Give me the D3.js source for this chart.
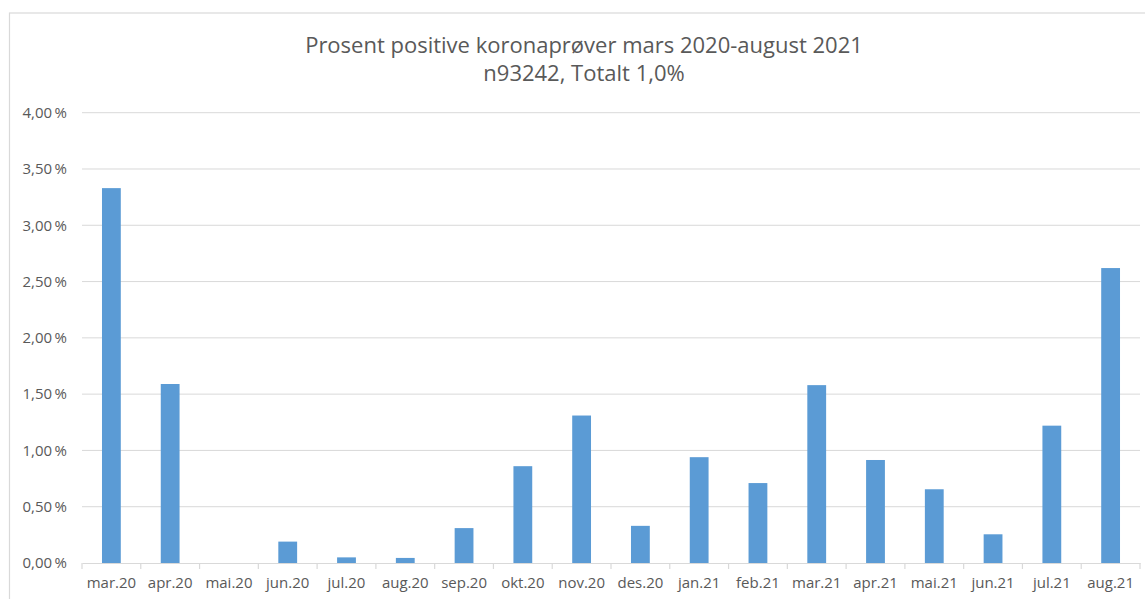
<!DOCTYPE html>
<html><head><meta charset="utf-8">
<script src="https://cdn.jsdelivr.net/npm/d3@7"></script>
<style>body{margin:0;background:#fff}svg{display:block}</style>
</head><body>
<svg id="c" width="1145" height="599"></svg>
<script>
const categories = ["mar.20","apr.20","mai.20","jun.20","jul.20","aug.20","sep.20","okt.20","nov.20","des.20","jan.21","feb.21","mar.21","apr.21","mai.21","jun.21","jul.21","aug.21"];
const values = [3.33,1.59,0,0.19,0.05,0.045,0.31,0.86,1.31,0.33,0.94,0.71,1.58,0.915,0.655,0.255,1.22,2.62];
const yTicks = [0,0.5,1,1.5,2,2.5,3,3.5,4];
const titleLines = ["Prosent positive koronaprøver mars 2020-august 2021","n93242, Totalt 1,0%"];

(function(){
const svg = d3.select("#c");
const font = "'Open Sans', 'Liberation Sans', sans-serif";
const pLeft = 82, pRight = 1140, pTop = 112.7, pBottom = 563;

svg.append("rect").attr("x",9.5).attr("y",13).attr("width",1140).attr("height",600)
  .attr("fill","none").attr("stroke","#d9d9d9").attr("stroke-width",1.2);

const x = d3.scaleBand().domain(categories).range([pLeft,pRight]).paddingInner(0.68).paddingOuter(0.34);
const y = d3.scaleLinear().domain([0,4]).range([pBottom,pTop]);

svg.append("g").selectAll("line").data(yTicks.filter(d=>d>0)).join("line")
  .attr("x1",pLeft).attr("x2",pRight).attr("y1",d=>y(d)).attr("y2",d=>y(d))
  .attr("stroke","#d9d9d9").attr("stroke-width",1);

const fmt = d => d3.format(".2f")(d).replace(".",",") + "\u2009%";
svg.append("g").selectAll("text").data(yTicks).join("text")
  .attr("x",67).attr("y",d=>y(d)).attr("dy","0.35em").attr("text-anchor","end")
  .attr("font-family",font).attr("font-size",15).attr("fill","#595959").text(fmt);

svg.append("g").selectAll("rect").data(values).join("rect")
  .attr("x",(d,i)=>x(categories[i])).attr("width",x.bandwidth())
  .attr("y",d=>y(d)).attr("height",d=>y(0)-y(d)).attr("fill","#5b9bd5");

const xa = svg.append("g").attr("transform",`translate(0,${pBottom})`)
  .call(d3.axisBottom(x).tickSize(0).tickPadding(14));
xa.select(".domain").attr("stroke","#d9d9d9").attr("stroke-width",1.2);
xa.selectAll("text").attr("font-family",font).attr("font-size",15).attr("fill","#595959");
const bounds = d3.range(categories.length+1).map(i=>pLeft+i*(pRight-pLeft)/categories.length);
svg.append("g").selectAll("line").data(bounds).join("line")
  .attr("x1",d=>d).attr("x2",d=>d).attr("y1",pBottom).attr("y2",pBottom+6)
  .attr("stroke","#d9d9d9").attr("stroke-width",1.2);

svg.append("g").selectAll("text").data(titleLines).join("text")
  .attr("x",584).attr("y",(d,i)=>53+i*28).attr("text-anchor","middle")
  .attr("font-family",font).attr("font-size",22).attr("fill","#595959").text(d=>d);
})();
</script>
</body></html>
